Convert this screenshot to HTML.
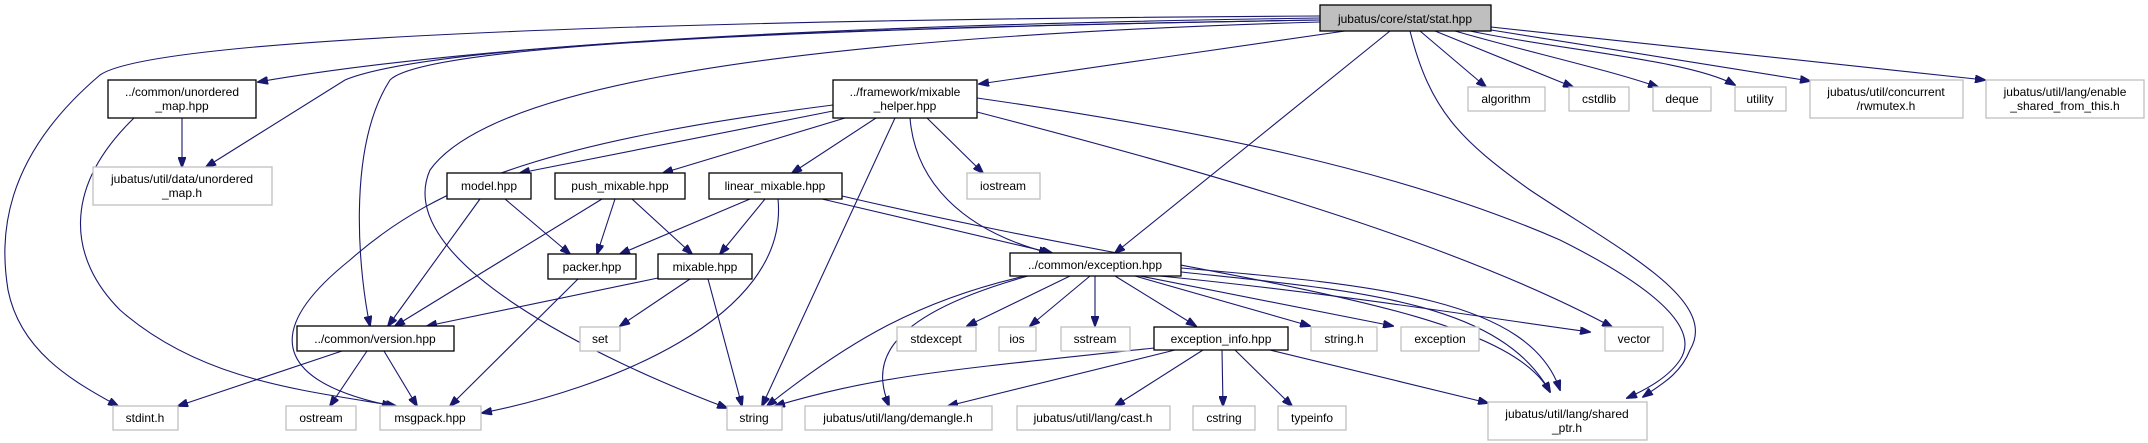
<!DOCTYPE html>
<html><head><meta charset="utf-8"><style>
html,body{margin:0;padding:0;background:#fff;}
svg{display:block;}
text{font-family:"Liberation Sans",Arial,sans-serif;font-size:12px;fill:#000;text-anchor:middle;}
.b{fill:#fff;stroke:#000;stroke-width:1.3;}
.g{fill:#fff;stroke:#bfbfbf;stroke-width:1.3;}
.e{fill:none;stroke:#191970;stroke-width:1.1;}
</style></head><body>
<svg width="2148" height="443" viewBox="0 0 2148 443" xmlns="http://www.w3.org/2000/svg">
<defs><marker id="a" markerWidth="11" markerHeight="8" refX="10" refY="4" orient="auto" markerUnits="userSpaceOnUse"><path d="M0,0 L11,4 L0,8 z" fill="#191970" stroke="#191970"/></marker></defs>
<g class="e" marker-end="url(#a)">
<!-- from stat -->
<path d="M1320,18 C900,24 500,40 258,82"/>
<path d="M1320,20 C800,28 430,45 345,80 L206,167"/>
<path d="M1320,16 C600,20 150,40 100,75 C0,160 0,240 8,290 C20,350 70,380 118,406"/>
<path d="M1320,20 C700,30 420,50 390,80 C345,150 360,280 370,326"/>
<path d="M1320,22 C700,40 480,100 430,170 C390,260 600,360 727,408"/>
<path d="M1345,31 L979,84"/>
<path d="M1390,31 L1115,253"/>
<path d="M1410,31 C1430,110 1460,140 1530,190 C1620,250 1720,300 1690,350 C1680,375 1660,385 1643,397"/>
<path d="M1420,31 L1486,87"/>
<path d="M1435,31 L1573,87"/>
<path d="M1455,31 C1520,50 1610,70 1658,87"/>
<path d="M1470,31 C1560,50 1690,60 1735,85"/>
<path d="M1491,30 L1810,81"/>
<path d="M1491,27 L1985,80"/>
<!-- unordered_map.hpp -->
<path d="M182,118 L182,167"/>
<path d="M134,118 C60,190 70,260 120,310 C200,380 300,390 396,406"/>
<!-- mixable_helper -->
<path d="M833,105 C560,140 440,180 350,260 C250,340 290,385 392,406"/>
<path d="M833,111 L520,173"/>
<path d="M845,118 L663,173"/>
<path d="M876,118 L792,173"/>
<path d="M895,118 L762,406"/>
<path d="M927,118 L983,173"/>
<path d="M910,118 C915,180 960,230 1049,253"/>
<path d="M977,112 C1200,170 1450,240 1612,327"/>
<path d="M977,98 C1200,130 1400,170 1560,240 C1660,290 1700,330 1680,360 C1670,375 1650,388 1627,398"/>
<!-- linear_mixable -->
<path d="M750,199 L620,254"/>
<path d="M765,199 L720,254"/>
<path d="M778,199 C790,320 600,390 482,413"/>
<path d="M822,199 L1052,253"/>
<path d="M842,196 C1200,280 1500,300 1550,392"/>
<!-- model/push -->
<path d="M505,199 L570,254"/>
<path d="M480,199 L388,326"/>
<path d="M602,199 L395,326"/>
<path d="M615,199 L597,254"/>
<path d="M632,199 L692,254"/>
<!-- packer/mixable -->
<path d="M578,279 L450,406"/>
<path d="M658,278 L427,326"/>
<path d="M690,279 L620,326"/>
<path d="M708,279 L742,406"/>
<!-- version -->
<path d="M342,351 L178,406"/>
<path d="M367,351 L330,406"/>
<path d="M384,351 L417,406"/>
<!-- exception.hpp -->
<path d="M1025,276 C920,300 850,340 767,406"/>
<path d="M1028,276 C870,320 875,370 889,406"/>
<path d="M1070,276 L967,326"/>
<path d="M1090,276 L1030,326"/>
<path d="M1095,276 L1095,326"/>
<path d="M1115,276 L1196,326"/>
<path d="M1135,276 L1310,326"/>
<path d="M1140,276 L1393,326"/>
<path d="M1160,276 C1350,295 1500,320 1590,332"/>
<path d="M1181,272 C1350,290 1500,300 1550,392"/>
<path d="M1181,268 C1380,285 1530,300 1560,390"/>
<!-- exception_info -->
<path d="M1154,348 C950,370 880,375 775,406"/>
<path d="M1175,350 L948,406"/>
<path d="M1203,350 L1115,406"/>
<path d="M1222,350 L1223,406"/>
<path d="M1235,350 L1292,406"/>
<path d="M1270,350 L1488,403"/>
</g>
<!-- nodes -->
<rect x="1320" y="5" width="171" height="26" fill="#bfbfbf" stroke="#000" stroke-width="1.3"/><text x="1405" y="23">jubatus/core/stat/stat.hpp</text>
<rect class="b" x="108" y="80" width="148" height="38"/><text x="182" y="96">../common/unordered</text><text x="182" y="110">_map.hpp</text>
<rect class="g" x="93" y="167" width="179" height="38"/><text x="182" y="183">jubatus/util/data/unordered</text><text x="182" y="197">_map.h</text>
<rect class="b" x="833" y="80" width="144" height="38"/><text x="905" y="96">../framework/mixable</text><text x="905" y="110">_helper.hpp</text>
<rect class="g" x="1468" y="87" width="77" height="24"/><text x="1506" y="103">algorithm</text>
<rect class="g" x="1569" y="87" width="60" height="24"/><text x="1599" y="103">cstdlib</text>
<rect class="g" x="1653" y="87" width="58" height="24"/><text x="1682" y="103">deque</text>
<rect class="g" x="1735" y="87" width="51" height="24"/><text x="1760" y="103">utility</text>
<rect class="g" x="1810" y="80" width="153" height="38"/><text x="1886" y="96">jubatus/util/concurrent</text><text x="1886" y="110">/rwmutex.h</text>
<rect class="g" x="1986" y="80" width="158" height="38"/><text x="2065" y="96">jubatus/util/lang/enable</text><text x="2065" y="110">_shared_from_this.h</text>
<rect class="b" x="447" y="173" width="84" height="26"/><text x="489" y="190">model.hpp</text>
<rect class="b" x="555" y="173" width="130" height="26"/><text x="620" y="190">push_mixable.hpp</text>
<rect class="b" x="709" y="173" width="133" height="26"/><text x="775" y="190">linear_mixable.hpp</text>
<rect class="g" x="967" y="173" width="73" height="26"/><text x="1003" y="190">iostream</text>
<rect class="b" x="548" y="254" width="88" height="25"/><text x="592" y="271">packer.hpp</text>
<rect class="b" x="658" y="254" width="94" height="25"/><text x="705" y="271">mixable.hpp</text>
<rect class="b" x="1010" y="253" width="171" height="23"/><text x="1095" y="269">../common/exception.hpp</text>
<rect class="b" x="297" y="326" width="157" height="25"/><text x="375" y="343">../common/version.hpp</text>
<rect class="g" x="580" y="327" width="40" height="24"/><text x="600" y="343">set</text>
<rect class="g" x="897" y="327" width="79" height="24"/><text x="936" y="343">stdexcept</text>
<rect class="g" x="999" y="327" width="37" height="24"/><text x="1017" y="343">ios</text>
<rect class="g" x="1061" y="327" width="69" height="24"/><text x="1095" y="343">sstream</text>
<rect class="b" x="1154" y="327" width="134" height="23"/><text x="1221" y="343">exception_info.hpp</text>
<rect class="g" x="1311" y="327" width="66" height="24"/><text x="1344" y="343">string.h</text>
<rect class="g" x="1401" y="327" width="78" height="24"/><text x="1440" y="343">exception</text>
<rect class="g" x="1605" y="327" width="58" height="24"/><text x="1634" y="343">vector</text>
<rect class="g" x="113" y="406" width="65" height="24"/><text x="145" y="422">stdint.h</text>
<rect class="g" x="286" y="406" width="70" height="24"/><text x="321" y="422">ostream</text>
<rect class="g" x="380" y="406" width="101" height="24"/><text x="430" y="422">msgpack.hpp</text>
<rect class="g" x="727" y="406" width="55" height="24"/><text x="754" y="422">string</text>
<rect class="g" x="805" y="406" width="187" height="24"/><text x="898" y="422">jubatus/util/lang/demangle.h</text>
<rect class="g" x="1017" y="406" width="153" height="24"/><text x="1093" y="422">jubatus/util/lang/cast.h</text>
<rect class="g" x="1193" y="406" width="62" height="24"/><text x="1224" y="422">cstring</text>
<rect class="g" x="1278" y="406" width="68" height="24"/><text x="1312" y="422">typeinfo</text>
<rect class="g" x="1488" y="402" width="159" height="38"/><text x="1567" y="418">jubatus/util/lang/shared</text><text x="1567" y="432">_ptr.h</text>
</svg>
</body></html>
